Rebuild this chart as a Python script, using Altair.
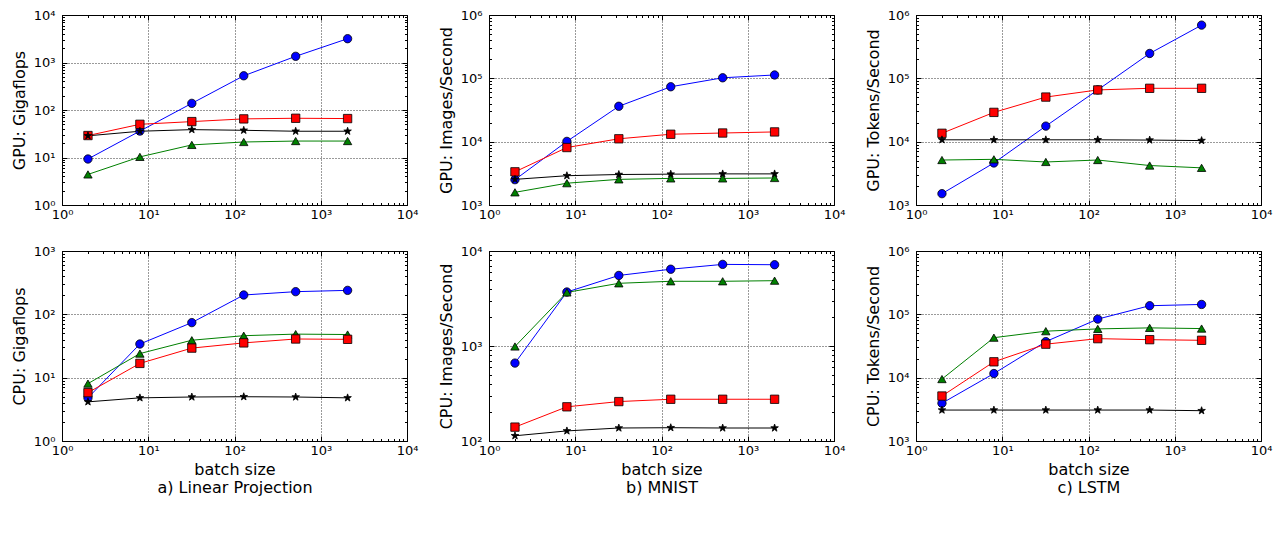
import altair as alt
import pandas as pd

STAR = ("M0,-0.95L0.22,-0.31L0.9,-0.29L0.36,0.12L0.56,0.77L0,0.38L-0.56,0.77"
        "L-0.36,0.12L-0.9,-0.29L-0.22,-0.31Z")

series_names = ["TF: pfor", "TF: while_loop", "DyNet: autobatching", "DyNet: no autobatching"]
series_colors = ["#0000ff", "#008000", "#ff0000", "#000000"]
series_shapes = ["circle", "triangle-up", "square", STAR]

batch_sizes = [2, 8, 32, 128, 512, 2048]

# a) Linear Projection
gpu_lin_pfor = [9.3, 36, 138, 525, 1350, 3170]
gpu_lin_while = [4.4, 10.3, 18.4, 21.2, 22.2, 22.2]
gpu_lin_auto = [29, 50, 57, 65, 67, 66]
gpu_lin_noauto = [28.6, 35.7, 38.6, 37.4, 35.7, 35.7]
cpu_lin_pfor = [4.8, 34, 74, 202, 228, 239]
cpu_lin_while = [8.05, 24, 39, 46, 48.7, 48]
cpu_lin_auto = [5.8, 16.8, 29.3, 35.4, 40.8, 40.3]
cpu_lin_noauto = [4.15, 4.8, 4.95, 5.0, 4.95, 4.8]

# b) MNIST
gpu_mnist_pfor = [2510, 10100, 36200, 73600, 102000, 113000]
gpu_mnist_while = [1585, 2210, 2540, 2630, 2630, 2670]
gpu_mnist_auto = [3340, 8080, 11100, 13100, 13700, 14250]
gpu_mnist_noauto = [2540, 2900, 3030, 3070, 3100, 3100]
cpu_mnist_pfor = [661, 3700, 5530, 6430, 7230, 7170]
cpu_mnist_while = [988, 3665, 4570, 4800, 4800, 4870]
cpu_mnist_auto = [140, 229, 260, 275, 275, 275]
cpu_mnist_noauto = [113.5, 127.7, 137, 138, 137, 137]

# c) LSTM
gpu_lstm_pfor = [1510, 4610, 17600, 65600, 247000, 692000]
gpu_lstm_while = [5130, 5260, 4780, 5130, 4200, 3860]
gpu_lstm_auto = [13560, 29000, 50600, 65600, 69600, 69600]
gpu_lstm_noauto = [10700, 10700, 10700, 10700, 10600, 10400]
cpu_lstm_pfor = [3950, 11620, 37100, 84100, 136800, 143300]
cpu_lstm_while = [9500, 42800, 54200, 58900, 61100, 59600]
cpu_lstm_auto = [5130, 17800, 33800, 41300, 39800, 38900]
cpu_lstm_noauto = [3080, 3080, 3080, 3080, 3080, 3010]

x_domain = [1, 10000]
FONT = "DejaVu Sans"
W, H = 345, 190

SUP = '["\u2070","\u00b9","\u00b2","\u00b3","\u2074","\u2075","\u2076"]'
LABEL_EXPR = '"10" + ' + SUP + '[round(log(datum.value)/LN10)]'


def make_df(series_values):
    rows = []
    for name, vals in zip(series_names, series_values):
        for b, v in zip(batch_sizes, vals):
            rows.append({"series": name, "batch": float(b), "value": float(v)})
    return pd.DataFrame(rows)


def decades(lo, hi):
    out = []
    v = lo
    while v <= hi * 1.0001:
        out.append(float(v))
        v *= 10
    return out


def minors(lo, hi):
    out = []
    for d in decades(lo, hi)[:-1]:
        for k in range(2, 10):
            out.append(float(d * k))
    return out


legend = alt.Legend(
    orient="none", legendX=50, legendY=-36, direction="horizontal", columns=4,
    title=" ", titleOrient="left", titlePadding=10, titleFontSize=16,
    gridAlign="each", columnPadding=168, padding=5,
    strokeColor="black", labelFont=FONT, labelFontSize=16, labelColor="black",
    symbolStrokeColor="black", symbolStrokeWidth=0.8, symbolSize=70,
    labelOffset=20, fillColor="white",
)

stroke_scale = alt.Scale(domain=series_names, range=series_colors)
fill_scale = alt.Scale(domain=series_names, range=series_colors)
shape_scale = alt.Scale(domain=series_names, range=series_shapes)


def panel(series_values, ydom, ytitle, xtitle):
    df = make_df(series_values)
    base = alt.Chart(df)
    xs = alt.Scale(type="log", domain=x_domain, nice=False)
    ys = alt.Scale(type="log", domain=ydom, nice=False)
    xdec, xmin = decades(*x_domain), minors(*x_domain)
    ydec, ymin = decades(*ydom), minors(*ydom)

    x_main = alt.Axis(orient="bottom", values=xdec, labelExpr=LABEL_EXPR, grid=True, ticks=False,
                      tickSize=0, domain=False, labelFlush=False, labelOverlap=False,
                      labelPadding=3, titlePadding=4, title=xtitle)
    y_main = alt.Axis(orient="left", values=ydec, labelExpr=LABEL_EXPR, grid=True, ticks=False,
                      tickSize=0, domain=False, labelOverlap=False, labelPadding=7,
                      title=ytitle, titlePadding=6)

    lines = base.mark_line(strokeWidth=1).encode(
        x=alt.X("batch:Q", scale=xs, axis=x_main),
        y=alt.Y("value:Q", scale=ys, axis=y_main),
        stroke=alt.Stroke("series:N", scale=stroke_scale, legend=None),
    )
    points = base.mark_point(filled=True, stroke="black", strokeWidth=0.8, opacity=1,
                             size=70).encode(
        x=alt.X("batch:Q", scale=xs, axis=None),
        y=alt.Y("value:Q", scale=ys, axis=None),
        fill=alt.Fill("series:N", scale=fill_scale, legend=legend),
        shape=alt.Shape("series:N", scale=shape_scale, legend=legend),
    )

    def ticks(xorient, yorient, xvals, yvals, size):
        common = dict(labels=False, domain=False, grid=False, ticks=True, tickSize=size,
                      title=None, tickColor="black", tickWidth=1)
        return base.mark_point(opacity=0).encode(
            x=alt.X("batch:Q", scale=xs,
                    axis=alt.Axis(orient=xorient, offset=-H, values=xvals, **common)),
            y=alt.Y("value:Q", scale=ys,
                    axis=alt.Axis(orient=yorient, offset=-W, values=yvals, **common)),
        )

    layers = [
        lines, points,
        ticks("top", "right", xdec, ydec, 5),
        ticks("bottom", "left", xdec, ydec, 5),
        ticks("top", "right", xmin, ymin, 2.5),
        ticks("bottom", "left", xmin, ymin, 2.5),
    ]
    return alt.layer(*layers).resolve_axis(x="independent", y="independent").properties(
        width=W, height=H)


pa = panel([gpu_lin_pfor, gpu_lin_while, gpu_lin_auto, gpu_lin_noauto], [1, 10000],
           "GPU: Gigaflops", None)
pb = panel([gpu_mnist_pfor, gpu_mnist_while, gpu_mnist_auto, gpu_mnist_noauto], [1000, 1000000],
           "GPU: Images/Second", None)
pc = panel([gpu_lstm_pfor, gpu_lstm_while, gpu_lstm_auto, gpu_lstm_noauto], [1000, 1000000],
           "GPU: Tokens/Second", None)
pd_ = panel([cpu_lin_pfor, cpu_lin_while, cpu_lin_auto, cpu_lin_noauto], [1, 1000],
            "CPU: Gigaflops", ["batch size", "a) Linear Projection"])
pe = panel([cpu_mnist_pfor, cpu_mnist_while, cpu_mnist_auto, cpu_mnist_noauto], [100, 10000],
           "CPU: Images/Second", ["batch size", "b) MNIST"])
pf = panel([cpu_lstm_pfor, cpu_lstm_while, cpu_lstm_auto, cpu_lstm_noauto], [1000, 1000000],
           "CPU: Tokens/Second", ["batch size", "c) LSTM"])

top = alt.hconcat(pa, pb, pc, spacing=18)
bottom = alt.hconcat(pd_, pe, pf, spacing=18)

chart = alt.vconcat(top, bottom, spacing=22).properties(
    padding={"left": 2, "top": 0, "right": 0, "bottom": 0}
).configure(
    font=FONT,
).configure_view(
    stroke="black", strokeWidth=1,
).configure_axis(
    labelFont=FONT, labelFontSize=13, labelColor="black",
    titleFont=FONT, titleFontSize=16, titleFontWeight="normal", titleColor="black",
    gridColor="black", gridDash=[1, 2], gridWidth=0.8, gridOpacity=1,
    titleLineHeight=18,
)

chart.save("out.html", embed_options={"renderer": "svg", "actions": False})
